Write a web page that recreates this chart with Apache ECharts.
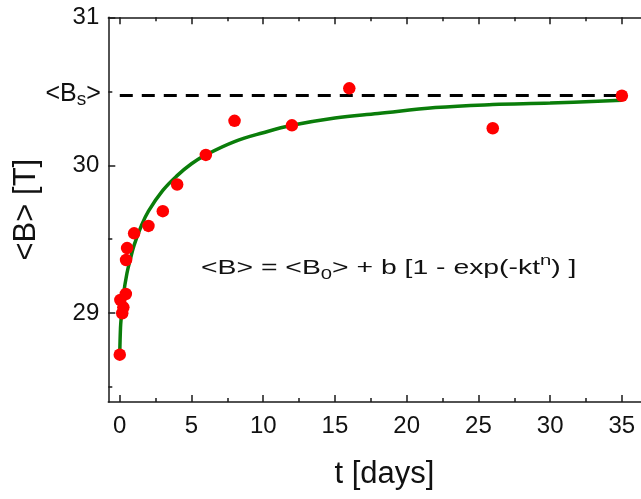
<!DOCTYPE html>
<html>
<head>
<meta charset="utf-8">
<script src="https://cdn.jsdelivr.net/npm/echarts@6/dist/echarts.min.js"></script>
<style>
html,body{margin:0;padding:0;background:#fff;}
#chart{width:641px;height:499px;}
</style>
</head>
<body>
<div id="chart"></div>
<script>
// Measured data points
var tDays = [0, 0.04, 0.17, 0.25, 0.42, 0.44, 0.51, 1, 2, 3, 4, 6, 8, 12, 16, 26, 35];
var bMean = [28.72, 29.09, 29.00, 29.04, 29.13, 29.36, 29.44, 29.54, 29.59, 29.69, 29.87, 30.07, 30.30, 30.27, 30.52, 30.25, 30.47];

// Fit curve
var fitT = [0, 0.05, 0.1, 0.25, 0.5, 0.75, 1, 1.5, 2, 3, 4, 5, 6, 8, 10, 12, 15, 18, 22, 26, 30, 35];
var fitB = [28.73, 28.90, 28.97, 29.12, 29.27, 29.37, 29.46, 29.59, 29.69, 29.83, 29.93, 30.01, 30.07, 30.16, 30.22, 30.27, 30.32, 30.35, 30.39, 30.41, 30.42, 30.44];

// Saturation level
var bSat = 30.47;
var bSatRange = [0, 35];

// Ticks
var xMajorTicks = [0, 5, 10, 15, 20, 25, 30, 35];
var xMinorTicks = [2.5, 7.5, 12.5, 17.5, 22.5, 27.5, 32.5];
var yMajorTicks = [29, 30, 31];
var yMinorTicks = [28.5, 29.5, 30.5];

var FONT = "'Liberation Sans', Arial, sans-serif";
var xMin = -0.8, xMax = 37.7, yMin = 28.4, yMax = 31;

function pairs(a, b) { return a.map(function (v, i) { return [v, b[i]]; }); }

function xAxisDef(pos, ticks, len, showLine, labels, name) {
  return {
    type: 'value', position: pos, min: xMin, max: xMax,
    axisLine: { show: showLine, onZero: false, lineStyle: { color: '#1a1a1a', width: 1.5 } },
    axisTick: { show: true, inside: true, length: len, customValues: ticks, lineStyle: { color: '#1a1a1a', width: 1.5 } },
    axisLabel: labels ? { show: true, customValues: labels, color: '#111', fontSize: 24, fontFamily: FONT, margin: 12 } : { show: false },
    splitLine: { show: false },
    name: name || '', nameLocation: 'middle', nameGap: 57,
    nameTextStyle: { fontSize: 31, color: '#111', fontFamily: FONT }
  };
}
function yAxisDef(ticks, len, showLine, labels, name) {
  return {
    type: 'value', position: 'left', min: yMin, max: yMax,
    axisLine: { show: showLine, onZero: false, lineStyle: { color: '#1a1a1a', width: 1.5 } },
    axisTick: { show: true, inside: true, length: len, customValues: ticks, lineStyle: { color: '#1a1a1a', width: 1.5 } },
    axisLabel: labels ? { show: true, customValues: labels, color: '#111', fontSize: 24, fontFamily: FONT, margin: 9 } : { show: false },
    splitLine: { show: false },
    name: name || '', nameLocation: 'middle', nameGap: 66, nameRotate: 90,
    nameTextStyle: { fontSize: 31, color: '#111', fontFamily: FONT }
  };
}

var chart = echarts.init(document.getElementById('chart'), null, { renderer: 'canvas' });
chart.setOption({
  animation: false,
  backgroundColor: '#fff',
  grid: { left: 108.3, top: 17.3, right: -19.6, bottom: 97, containLabel: false, outerBoundsMode: 'none' },
  xAxis: [
    xAxisDef('bottom', xMajorTicks, 7, true, xMajorTicks, 't [days]'),
    xAxisDef('bottom', xMinorTicks, 4, false, null),
    xAxisDef('top', xMajorTicks, 7, true, null),
    xAxisDef('top', xMinorTicks, 4, false, null)
  ],
  yAxis: [
    yAxisDef(yMajorTicks, 7, true, yMajorTicks, '<B> [T]'),
    yAxisDef(yMinorTicks, 4, false, null)
  ],
  graphic: [{
    type: 'text', left: 201, top: 253, z: 100, scaleX: 1.35, scaleY: 1.0,
    style: {
      text: '{a|<B> = <B}{sub|0}{a|> + b [1 - exp(-kt}{sup|n}{a|) ]}',
      font: '21px ' + FONT,
      fill: '#111',
      rich: {
        a: { fontSize: 21, fontFamily: FONT, fill: '#111', padding: [5, 0, 0, 0], verticalAlign: 'top' },
        sub: { fontSize: 15, fontFamily: FONT, fill: '#111', padding: [14, 0, 0, 0], verticalAlign: 'top' },
        sup: { fontSize: 15, fontFamily: FONT, fill: '#111', padding: [0, 0, 0, 0], verticalAlign: 'top' }
      }
    }
  }],
  series: [
    {
      type: 'line', xAxisIndex: 0, yAxisIndex: 0,
      data: pairs(fitT, fitB),
      smooth: 0.4, showSymbol: false, symbol: 'none',
      lineStyle: { color: '#0a7d0a', width: 3.5 }, z: 2,
      markLine: {
        silent: true, symbol: ['none', 'none'], animation: false,
        lineStyle: { color: '#000', width: 3, type: [13, 9] },
        label: {
          show: true, position: 'start', distance: 19,
          formatter: '{a|<B}{s|s}{a|>}',
          rich: {
            a: { fontSize: 25, fontFamily: FONT, color: '#111', verticalAlign: 'top' },
            s: { fontSize: 19, fontFamily: FONT, color: '#111', padding: [9, 0, 0, 0], verticalAlign: 'top' }
          }
        },
        data: [[{ coord: [bSatRange[0], bSat] }, { coord: [bSatRange[1], bSat] }]]
      }
    },
    {
      type: 'scatter', xAxisIndex: 0, yAxisIndex: 0,
      data: pairs(tDays, bMean),
      symbol: 'circle', symbolSize: 12.5,
      itemStyle: { color: '#ff0000', opacity: 1 }, z: 5
    }
  ]
});
</script>
</body>
</html>
